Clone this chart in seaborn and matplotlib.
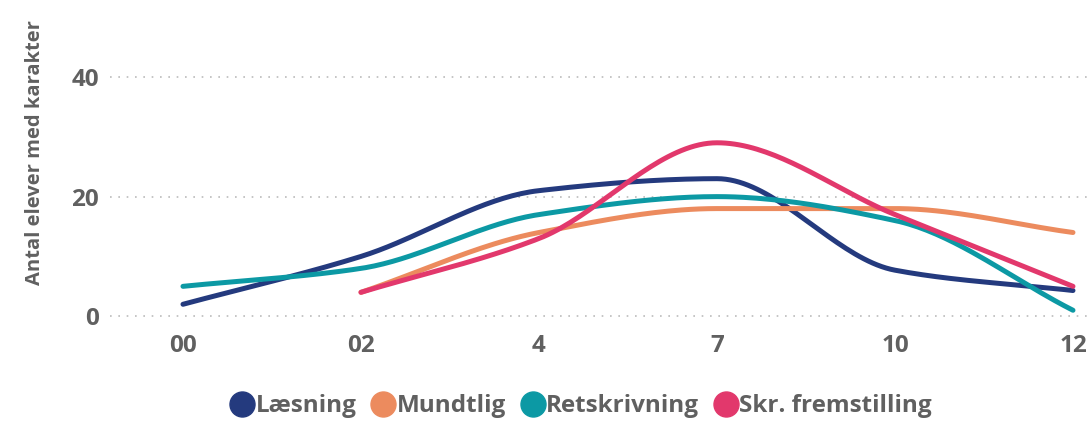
import matplotlib.pyplot as plt
import seaborn as sns
import numpy as np
from matplotlib.lines import Line2D

# --- Data
grades = ['00', '02', '4', '7', '10', '12']
laesning = [2, 10, 21, 23, 7.7, 4.3]
mundtlig = [np.nan, 4, 14, 18, 18, 14]
retskrivning = [5, 8, 17, 20, 16, 1]
skr_fremstilling = [np.nan, 4, 13, 29, 17, 5]

series_names = ['Læsning', 'Mundtlig', 'Retskrivning', 'Skr. fremstilling']
series_values = [laesning, mundtlig, retskrivning, skr_fremstilling]
colors = ['#243A7E', '#EC8B5E', '#0C99A4', '#E2386C']

# --- General Plot Settings
sns.set_style("white")
plt.rcParams['font.family'] = ['Open Sans', 'DejaVu Sans']
plt.rcParams['axes.unicode_minus'] = False
TEXT_GREY = '#606060'


def smooth_curve(x, y, n=40):
    """Monotone cubic (Fritsch-Carlson) curve through the points, like Power BI's smoothed line."""
    x = np.asarray(x, float)
    y = np.asarray(y, float)
    h = np.diff(x)
    d = np.diff(y) / h
    m = np.zeros_like(y)
    m[0], m[-1] = d[0], d[-1]
    for k in range(1, len(x) - 1):
        if d[k - 1] * d[k] <= 0:
            m[k] = 0
        else:
            w1 = 2 * h[k] + h[k - 1]
            w2 = h[k] + 2 * h[k - 1]
            m[k] = (w1 + w2) / (w1 / d[k - 1] + w2 / d[k])
    xs, ys = [], []
    for k in range(len(x) - 1):
        t = np.linspace(0, 1, n, endpoint=(k == len(x) - 2))
        h00 = 2 * t**3 - 3 * t**2 + 1
        h10 = t**3 - 2 * t**2 + t
        h01 = -2 * t**3 + 3 * t**2
        h11 = t**3 - t**2
        xs.append(x[k] + t * h[k])
        ys.append(h00 * y[k] + h10 * h[k] * m[k] + h01 * y[k + 1] + h11 * h[k] * m[k + 1])
    return np.concatenate(xs), np.concatenate(ys)


fig = plt.figure(figsize=(10.89, 4.21), dpi=100)
ax = fig.add_axes([110 / 1089, 91 / 421, 979 / 1089, 320 / 421])

# Plot each series as a smoothed line
for name, values, color in zip(series_names, series_values, colors):
    pos = np.arange(len(grades))
    vals = np.asarray(values, float)
    ok = ~np.isnan(vals)
    xs, ys = smooth_curve(pos[ok], vals[ok])
    sns.lineplot(x=xs, y=ys, color=color, linewidth=3.6, ax=ax,
                 solid_capstyle='round', sort=False)

# Axes
ax.set_xlim(-0.41, 5.09)
ax.set_ylim(-2.3, 51.2)
ax.set_xticks(np.arange(len(grades)))
ax.set_xticklabels(grades)
ax.set_yticks([0, 20, 40])
ax.tick_params(axis='both', length=0, labelsize=17.5, labelcolor=TEXT_GREY)
ax.tick_params(axis='x', pad=3)
ax.tick_params(axis='y', pad=8)
for lbl in ax.get_xticklabels() + ax.get_yticklabels():
    lbl.set_fontweight('bold')
ax.grid(axis='y', linestyle=(0, (1, 4)), color='#BBBBBB', linewidth=1.2)
ax.grid(axis='x', visible=False)
sns.despine(ax=ax, left=True, bottom=True)

ax.set_ylabel('Antal elever med karakter', fontsize=14.5, color=TEXT_GREY,
              fontweight='bold')
ax.yaxis.set_label_coords(-0.066, 0.556)

# Legend
handles = [Line2D([], [], marker='o', linestyle='none', markersize=18,
                  markerfacecolor=c, markeredgecolor=c) for c in colors]
leg = fig.legend(handles, series_names, loc='center', bbox_to_anchor=(0.533, 0.035),
                 ncol=4, frameon=False, handletextpad=0.0, columnspacing=0.55,
                 handlelength=1.1, prop={'size': 17.5, 'weight': 'bold'})
for t in leg.get_texts():
    t.set_color(TEXT_GREY)

plt.savefig('out.png', dpi=100)
plt.close()
